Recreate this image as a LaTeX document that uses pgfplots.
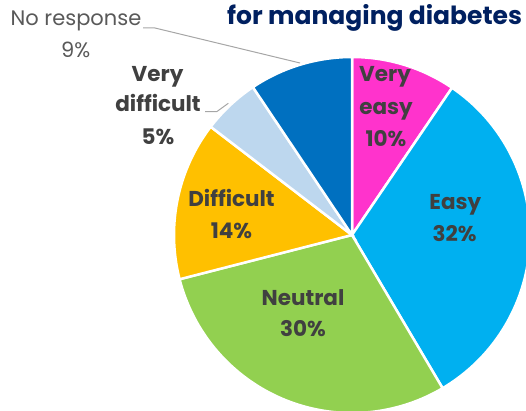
\documentclass[border=0pt]{standalone}
\usepackage{fontspec}
\setmainfont{Poppins}
\usepackage{pgfplots}
\usepackage{pgfplotstable}
\pgfplotsset{compat=1.18}
\definecolor{cVEasy}{HTML}{FF33CC}
\definecolor{cEasy}{HTML}{00B0F0}
\definecolor{cNeutral}{HTML}{92D050}
\definecolor{cDiff}{HTML}{FFC000}
\definecolor{cVDiff}{HTML}{BDD7EE}
\definecolor{cNR}{HTML}{0070C0}
\definecolor{labtxt}{HTML}{404040}
\definecolor{nrtxt}{HTML}{595959}
\definecolor{titletxt}{HTML}{002060}
\definecolor{leader}{HTML}{A6A6A6}
\pgfplotstableread{
value color
9.5  cVEasy
32.0 cEasy
29.5 cNeutral
14.4 cDiff
5.2  cVDiff
9.4  cNR
}\piedata
\begin{document}
\begin{tikzpicture}
\begin{axis}[
  width=526pt, height=411pt, scale only axis,
  xmin=0, xmax=526, ymin=0, ymax=411, y dir=reverse,
  hide axis, clip=true,
]
\def\cum{0}
\pgfplotsforeachungrouped \i in {0,...,5}{%
  \pgfplotstablegetelem{\i}{value}\of\piedata \let\v=\pgfplotsretval
  \pgfplotstablegetelem{\i}{color}\of\piedata \let\c=\pgfplotsretval
  \pgfmathsetmacro\aS{90-3.6*\cum}%
  \pgfmathsetmacro\cum{\cum+\v}%
  \pgfmathsetmacro\aE{90-3.6*\cum}%
  \edef\cmd{\noexpand\addplot[fill=\c, draw=white, line width=2.5pt, line join=miter, domain=\aE:\aS, samples=120] ({352+178*cos(x)},{235-178*sin(x)}) -- (axis cs:352,235) -- cycle;}%
  \cmd
}
% leader lines
\draw[leader, line width=1pt] (axis cs:143,28) -- (axis cs:155,28) -- (axis cs:300,63);
\draw[leader, line width=1pt] (axis cs:205,111.7) -- (axis cs:216.7,111.7) -- (axis cs:228.3,103.3);
% labels
\tikzset{lab/.style={font=\fontsize{21.5}{25}\selectfont\bfseries, text=labtxt, anchor=base, inner sep=0pt}}
\node[lab] at (axis cs:385,81.7) {Very};
\node[lab] at (axis cs:386,114.5) {easy};
\node[lab] at (axis cs:386,146.7) {10\%};
\node[lab] at (axis cs:455.3,209.3) {Easy};
\node[lab] at (axis cs:454.5,241.7) {32\%};
\node[lab] at (axis cs:303,305) {Neutral};
\node[lab] at (axis cs:303,336.7) {30\%};
\node[lab] at (axis cs:231.5,206.7) {Difficult};
\node[lab] at (axis cs:231.5,238.3) {14\%};
\node[lab] at (axis cs:157.5,81.7) {Very};
\node[lab] at (axis cs:158,111.7) {difficult};
\node[lab] at (axis cs:158,144.3) {5\%};
\node[font=\fontsize{21}{25}\selectfont, text=nrtxt, anchor=base, inner sep=0pt] at (axis cs:76,26) {No response};
\node[font=\fontsize{21}{25}\selectfont, text=nrtxt, anchor=base, inner sep=0pt] at (axis cs:75.8,57.3) {9\%};
\node[font=\fontsize{25}{29}\selectfont\bfseries, text=titletxt, anchor=base west, inner sep=0pt] at (axis cs:227,25) {for managing diabetes};
\end{axis}
\pgfresetboundingbox
\path (current axis.south west) rectangle (current axis.north east);
\end{tikzpicture}
\end{document}
